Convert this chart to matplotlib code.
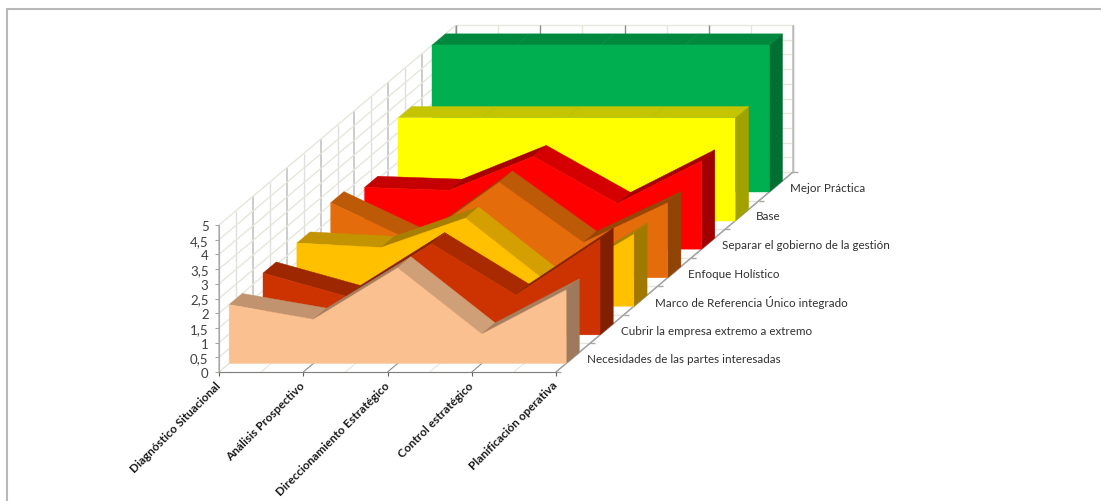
import matplotlib
matplotlib.use("Agg")
import matplotlib.pyplot as plt
from matplotlib.colors import to_rgb
from matplotlib.patches import Polygon

plt.rcParams["font.family"] = ["Lato", "DejaVu Sans"]

categories = ["Diagnóstico Situacional", "Análisis Prospectivo", "Direccionamiento Estratégico",
              "Control estratégico", "Planificación operativa"]
series_names = ["Necesidades de las partes interesadas", "Cubrir la empresa extremo a extremo",
                "Marco de Referencia Único integrado", "Enfoque Holístico",
                "Separar el gobierno de la gestión", "Base", "Mejor Práctica"]

necesidades = [2.0, 1.5, 3.25, 1.0, 2.5]
cubrir = [2.1, 1.3, 3.1, 1.35, 3.25]
marco = [2.15, 2.0, 3.0, 0.75, 2.45]
enfoque = [2.55, 1.2, 3.25, 1.2, 2.55]
separar = [2.1, 2.0, 3.15, 1.55, 3.0]
base = [3.5, 3.5, 3.5, 3.5, 3.5]
mejor = [5.0, 5.0, 5.0, 5.0, 5.0]
all_values = [necesidades, cubrir, marco, enfoque, separar, base, mejor]

colors = ["#FAC090", "#CC3300", "#FFC000", "#E46C0A", "#FF0000", "#FFFF00", "#00B050"]

value_ticks = [0, 0.5, 1, 1.5, 2, 2.5, 3, 3.5, 4, 4.5, 5]
value_labels = ["0", "0,5", "1", "1,5", "2", "2,5", "3", "3,5", "4", "4,5", "5"]

# oblique projection: one unit of depth in data units of the front plane
DEPTH_X = 237 / 337 * 4
DEPTH_Y = 200 / 147 * 5
NSER = len(all_values)

GRID = "#E6E6DC"
WALL = "#C4C4C4"
AXIS = "#A6A6A6"


def proj(x, d, z):
    return x + d * DEPTH_X, z + d * DEPTH_Y


def shade(color, factor):
    return tuple(c * factor for c in to_rgb(color))


def quad(ax, pts, color, zorder):
    ax.add_patch(Polygon(pts, closed=True, facecolor=color, edgecolor=color, lw=0.3,
                         clip_on=False, zorder=zorder))


def line3d(ax, p0, p1, color, lw=1.0, zorder=1):
    x0, y0 = proj(*p0)
    x1, y1 = proj(*p1)
    ax.plot([x0, x1], [y0, y1], color=color, lw=lw, clip_on=False, zorder=zorder,
            solid_capstyle="butt")


def top_factor(dv):
    # top faces catch less light on the rising stretches
    if dv > 0.1:
        return 0.66
    if dv < -1:
        return 0.83
    return 0.77


fig = plt.figure(figsize=(11.01, 5.02), dpi=100)
# chart frame runs off the right and bottom of the image
fig.add_artist(plt.Rectangle((7 / 1101, -0.1), 1.1, 1.08, fill=False, ec="#B8B8B8", lw=1.5,
                             transform=fig.transFigure))
ax = fig.add_axes([219 / 1101, 129 / 502, 337 / 1101, 147 / 502])
ax.set_xlim(0, 4)
ax.set_ylim(0, 5)
ax.patch.set_alpha(0)
for s in ["top", "right"]:
    ax.spines[s].set_visible(False)
ax.spines["left"].set_color(AXIS)
ax.spines["bottom"].set_color("#808080")
ax.spines["left"].set_zorder(2)

ax.set_yticks(value_ticks, labels=value_labels)
ax.set_xticks(range(len(categories)), labels=categories)
ax.tick_params(axis="y", labelsize=9.5, labelcolor="#404040", color=AXIS, length=3, pad=4.5)
ax.tick_params(axis="x", color="#606060", length=3, pad=5)
for lab in ax.get_xticklabels():
    lab.set(rotation=45, ha="right", va="center", rotation_mode="anchor", fontweight="bold",
            fontsize=8.5, color="#1A1A1A")

# floor, left wall and back wall
for i in range(2 * NSER + 1):
    d = i / (2 * NSER)
    dark = i % 2 == 0
    line3d(ax, (0, d, 0), (0, d, 5), WALL if dark else "#E0E0E0", lw=1.2 if dark else 1.0)
    line3d(ax, (0, d, 0), (4, d, 0), GRID, lw=1.0)
    if dark:
        line3d(ax, (4, d, 0), (4.06, d, 0), AXIS, lw=1.0)
for v in value_ticks:
    line3d(ax, (0, 0, v), (0, 1, v), GRID, lw=1.0)
    line3d(ax, (0, 1, v), (4, 1, v), GRID, lw=1.0)
for k in range(9):
    xv = k / 2
    dark = k % 2 == 0
    line3d(ax, (xv, 0, 0), (xv, 1, 0), "#8C8C8C" if dark and k > 0 else GRID, lw=0.8)
    line3d(ax, (xv, 1, 0), (xv, 1, 5), "#8C8C8C" if dark else GRID, lw=1.0)
line3d(ax, (4, 0, 0), (4, 1, 0), AXIS, lw=1.0)
line3d(ax, (4, 1, 0), (4, 1, 5), WALL, lw=1.2)

# ribbons, back to front
for i in range(NSER - 1, -1, -1):
    values = all_values[i]
    color = colors[i]
    d0 = (i + 0.3) / NSER
    d1 = (i + 0.69) / NSER
    z = 10 + (NSER - i) * 3
    xs = range(len(values))
    last = len(values) - 1
    # right end
    quad(ax, [proj(last, d0, 0), proj(last, d1, 0), proj(last, d1, values[last]),
              proj(last, d0, values[last])], shade(color, 0.63), z)
    # sloped top
    for k in range(last):
        dv = values[k + 1] - values[k]
        quad(ax, [proj(k, d0, values[k]), proj(k, d1, values[k]),
                  proj(k + 1, d1, values[k + 1]), proj(k + 1, d0, values[k + 1])],
             shade(color, top_factor(dv)), z + 1)
    # front face
    front = [proj(0, d0, 0)] + [proj(k, d0, values[k]) for k in xs] + [proj(last, d0, 0)]
    quad(ax, front, color, z + 2)

    tx, ty = proj(4, (i + 0.5) / NSER, 0)
    ax.annotate(series_names[i], (tx, ty), xytext=(14, -1), textcoords="offset pixels",
                ha="left", va="center", fontsize=8.35, color="#303030", annotation_clip=False)

fig.savefig("out.png", dpi=100, facecolor="white")
